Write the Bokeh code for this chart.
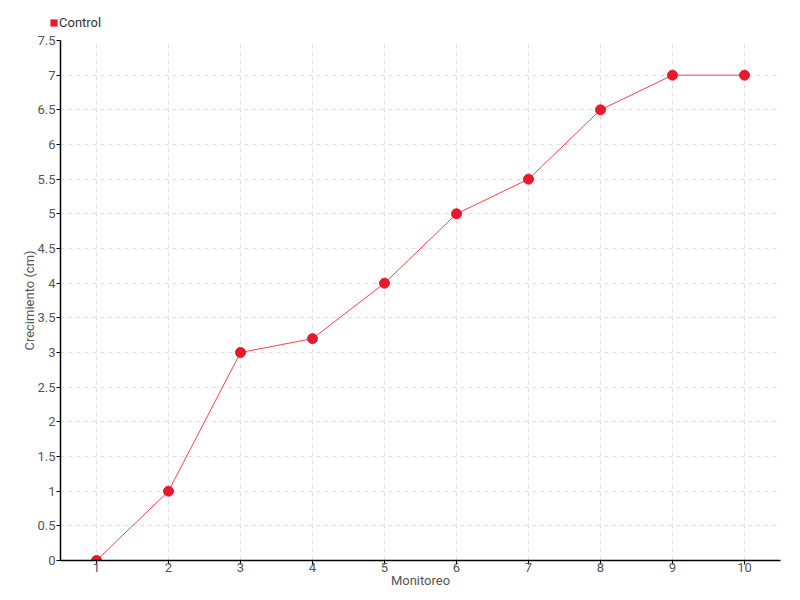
from bokeh.plotting import figure
from bokeh.layouts import column
from bokeh.models import FixedTicker, Range1d, Legend, LegendItem, ColumnDataSource
from bokeh.embed import file_html
from bokeh.resources import INLINE

monitoreo = [1, 2, 3, 4, 5, 6, 7, 8, 9, 10]
control = [0, 1, 3, 3.2, 4, 5, 5.5, 6.5, 7, 7]
y_ticks = [0, 0.5, 1, 1.5, 2, 2.5, 3, 3.5, 4, 4.5, 5, 5.5, 6, 6.5, 7, 7.5]
y_tick_labels = ["0", "0.5", "1", "1.5", "2", "2.5", "3", "3.5", "4", "4.5",
                 "5", "5.5", "6", "6.5", "7", "7.5"]
series_name = "Control"
x_title = "Monitoreo"
y_title = "Crecimiento (cm)"

FONT = "Roboto"
LABEL_COLOR = "#555555"
SERIES_COLOR = "#e8192c"

src = ColumnDataSource(dict(x=monitoreo, y=control))

# --- legend strip above the chart ---
lg = figure(width=800, height=32, output_backend="svg", toolbar_location=None,
            x_axis_type=None, y_axis_type=None,
            min_border_left=0, min_border_right=0, min_border_top=0, min_border_bottom=0,
            x_range=Range1d(0, 1), y_range=Range1d(0, 1))
lg.frame_align = False
lg.outline_line_color = None
lg.xgrid.visible = False
lg.ygrid.visible = False
leg_r = lg.rect("x", "y", width=0.1, height=0.1, source=src,
                fill_color=SERIES_COLOR, line_color=None, visible=False)
legend = Legend(items=[LegendItem(label=series_name, renderers=[leg_r])],
                location=(49, 2), orientation="horizontal",
                background_fill_alpha=0, border_line_color=None,
                inactive_fill_alpha=0,
                label_text_font=FONT, label_text_font_size="13px", label_text_color="#333333",
                glyph_width=9, glyph_height=9, label_standoff=1, padding=0, margin=0,
                label_height=14)
lg.add_layout(legend, "center")

# --- main chart ---
p = figure(width=800, height=568,
           min_border_left=60, min_border_right=20, min_border_top=8, min_border_bottom=40,
           output_backend="svg", toolbar_location=None,
           x_range=Range1d(0.5, 10.5), y_range=Range1d(0, 7.5))
p.frame_align = False
p.outline_line_color = None

p.line("x", "y", source=src, line_color="#ff4050", line_width=1)
p.scatter("x", "y", source=src, size=10, fill_color=SERIES_COLOR, line_color=SERIES_COLOR)

for ax in (p.xaxis[0], p.yaxis[0]):
    ax.axis_line_color = "black"
    ax.axis_line_width = 1.5
    ax.major_tick_line_color = "black"
    ax.major_tick_in = 0
    ax.major_tick_out = 4
    ax.minor_tick_line_color = None
    ax.major_label_text_font = FONT
    ax.major_label_text_font_size = "13px"
    ax.major_label_text_color = LABEL_COLOR
    ax.axis_label_text_font = FONT
    ax.axis_label_text_font_size = "13px"
    ax.axis_label_text_font_style = "normal"
    ax.axis_label_text_color = LABEL_COLOR

p.xaxis.ticker = FixedTicker(ticks=monitoreo)
p.xaxis.axis_label = x_title
p.xaxis.major_label_standoff = -2
p.xaxis.axis_label_standoff = -2

p.yaxis.ticker = FixedTicker(ticks=y_ticks)
p.yaxis.major_label_overrides = {t: s for t, s in zip(y_ticks, y_tick_labels)}
p.yaxis.axis_label = y_title
p.yaxis.major_label_standoff = 1
p.yaxis.axis_label_standoff = -3

for g in (p.xgrid[0], p.ygrid[0]):
    g.grid_line_color = "#dddddd"
    g.grid_line_dash = "4 4"
    g.grid_line_width = 1

layout = column(lg, p, spacing=0)
open("out.html", "w").write(file_html(layout, INLINE))
